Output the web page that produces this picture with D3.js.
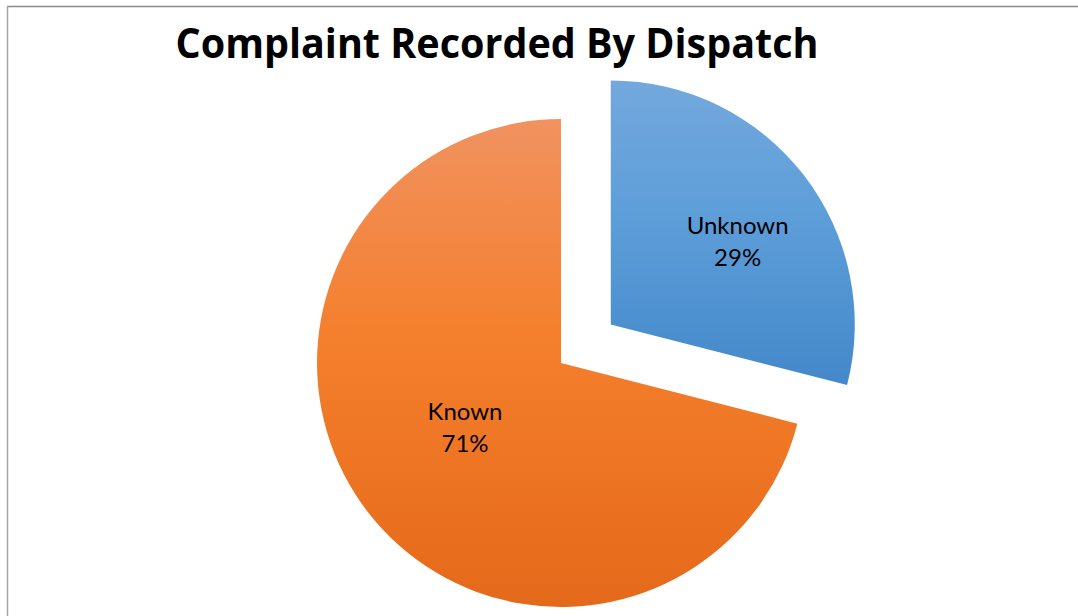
<!DOCTYPE html>
<html><head><meta charset="utf-8">
<script src="https://cdn.jsdelivr.net/npm/d3@7"></script>
<style>html,body{margin:0;padding:0;background:#fff;}svg{display:block;}</style>
</head><body>
<svg id="c" width="1078" height="616"></svg>
<script>
const categories = ["Unknown", "Known"];
const values = [29, 71];
const percentLabels = ["29%", "71%"];
const title = "Complaint Recorded By Dispatch";

const svg = d3.select("#c");
const W = 1078, H = 616;
svg.append("rect").attr("width", W).attr("height", H).attr("fill", "#fff");
// chart frame
svg.append("line").attr("x1", 7).attr("x2", W).attr("y1", 6.5).attr("y2", 6.5).attr("stroke", "#8a8a8a").attr("stroke-width", 1.5);
svg.append("line").attr("x1", 7.5).attr("x2", 7.5).attr("y1", 6).attr("y2", H).attr("stroke", "#a6a6a6").attr("stroke-width", 1.5);

svg.append("text").attr("x", 497).attr("y", 58).attr("text-anchor", "middle")
  .attr("font-family", "'Open Sans', 'DejaVu Sans', sans-serif").attr("font-weight", "bold")
  .attr("font-size", 41).attr("textLength", 643).attr("lengthAdjust", "spacingAndGlyphs")
  .attr("fill", "#000").text(title);

const defs = svg.append("defs");
const grads = [["#73a8dd", "#5d9ed9", "#4488ca"], ["#f19260", "#f47f2c", "#e5691a"]];
grads.forEach((g, i) => {
  const lg = defs.append("linearGradient").attr("id", "g" + i).attr("x1", 0).attr("y1", 0).attr("x2", 0).attr("y2", 1);
  lg.append("stop").attr("offset", "0%").attr("stop-color", g[0]);
  lg.append("stop").attr("offset", "45%").attr("stop-color", g[1]);
  lg.append("stop").attr("offset", "100%").attr("stop-color", g[2]);
});

const cx = 561, cy = 363, R = 244, explode = 63;
const labelRadius = [0.62, 0.475];     // fraction of R, per slice
const labelAngleShift = [4.8, 3.7];    // degrees, per slice
const pie = d3.pie().sort(null).value(d => d.v);
const arcs = pie(categories.map((c, i) => ({c, v: values[i], p: percentLabels[i]})));
const arc = d3.arc().innerRadius(0).outerRadius(R);
const g = svg.append("g").attr("transform", `translate(${cx},${cy})`);
arcs.forEach((a, i) => {
  const mid = (a.startAngle + a.endAngle) / 2;
  const off = i === 0 ? explode : 0;
  const dx = Math.sin(mid) * off, dy = -Math.cos(mid) * off;
  const sg = g.append("g").attr("transform", `translate(${dx},${dy})`);
  sg.append("path").attr("d", arc(a)).attr("fill", `url(#g${i})`);
  const lr = R * labelRadius[i];
  const la = mid + labelAngleShift[i] * Math.PI / 180;
  const lx = Math.sin(la) * lr, ly = -Math.cos(la) * lr;
  const t = sg.append("text").attr("text-anchor", "middle")
    .attr("font-family", "Lato, 'Open Sans', sans-serif").attr("font-size", 24).attr("fill", "#000");
  t.append("tspan").attr("x", lx).attr("y", ly - 7.5).text(a.data.c);
  t.append("tspan").attr("x", lx).attr("y", ly + 24.5).text(a.data.p);
});
</script>
</body></html>
